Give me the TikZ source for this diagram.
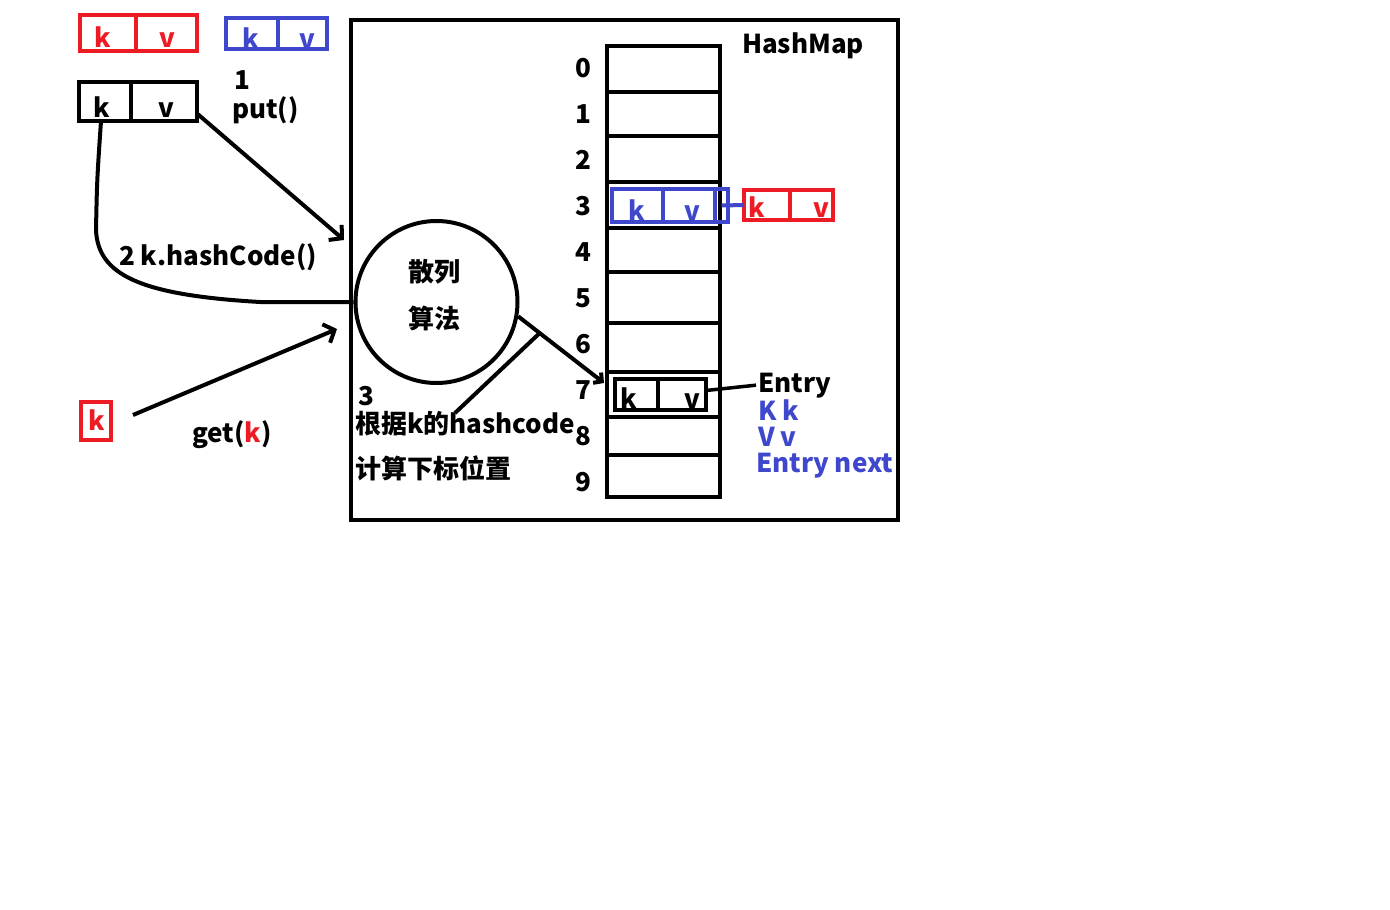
\documentclass[tikz,border=0pt]{standalone}
\usepackage{fontspec}
\setmainfont{Noto Sans CJK SC}
\usetikzlibrary{arrows.meta,calc}
\definecolor{myred}{HTML}{ED1C24}
\definecolor{myblue}{HTML}{3F48CC}
\begin{document}
\begin{tikzpicture}[x=1pt,y=-1pt,
  font=\fontsize{26}{30}\selectfont\bfseries,
  line width=4pt,
  cell/.style={draw, inner sep=0pt, outer sep=0pt, anchor=north west},
  txt/.style={inner sep=0pt, anchor=base},
  ltxt/.style={inner sep=0pt, anchor=base west},
  barb/.style={-{Straight Barb[length=9pt,width=20pt]}},
  smallbarb/.style={-{Straight Barb[length=6pt,width=13pt]}}]
\useasboundingbox (0,0) rectangle (1390,910);
\fill[white] (0,0) rectangle (1390,910);

% top red k/v
\node[cell, myred, minimum width=56pt, minimum height=36pt] (tk) at (80,15) {};
\node[cell, myred, minimum width=61pt, minimum height=36pt] (tv) at (136,15) {};
\node[txt, myred] (tkt) at (103,47) {k};
\node[txt, myred] (tvt) at (167,47) {v};
% top blue k/v
\node[cell, myblue, minimum width=52pt, minimum height=31pt] (uk) at (226,18) {};
\node[cell, myblue, minimum width=49pt, minimum height=31pt] (uv) at (278,18) {};
\node[txt, myblue] (ukt) at (251,48) {k};
\node[txt, myblue] (uvt) at (307,48) {v};
% black k/v
\node[cell, minimum width=52pt, minimum height=39pt] (bk) at (79,82) {};
\node[cell, minimum width=66pt, minimum height=39pt] (bv) at (131,82) {};
\node[txt] (bkt) at (102,117) {k};
\node[txt] (bvt) at (166,117) {v};
\node[txt] (one) at (242,89) {1};
\node[ltxt] (put) at (230,118) {put()};

% frame
\node[cell, minimum width=547pt, minimum height=500pt] (frame) at (351,20) {};
\node[ltxt] (hm) at (740,53) {HashMap};

% array
\foreach \i/\t/\h in {0/46/46,1/92/44,2/136/46,3/182/46,4/228/44,5/272/51,6/323/49,7/372/45,8/417/38,9/455/42}
  \node[cell, minimum width=113pt, minimum height=\h pt] (r\i) at (607,\t) {};
\foreach \i in {0,...,9}
  \node[txt] (n\i) at (583,{77+46*\i}) {\i};

% row 3 blue entry and red entry
\node[cell, myblue, minimum width=51pt, minimum height=33pt] (ak) at (612,189) {};
\node[cell, myblue, minimum width=52pt, minimum height=33pt] (av) at (663,189) {};
\node[cell, myblue, minimum width=13pt, minimum height=33pt] (ap) at (715,189) {};
\node[txt, myblue] (akt) at (637,220) {k};
\node[txt, myblue] (avt) at (692,220) {v};
\node[cell, myred, minimum width=46pt, minimum height=30pt] (ck) at (744,190) {};
\node[cell, myred, minimum width=43pt, minimum height=30pt] (cv) at (790,190) {};
\node[txt, myred] (ckt) at (757,217) {k};
\node[txt, myred] (cvt) at (821,217) {v};
\draw[myblue] (ap.center) -- (ck.west);

% row 7 entry
\node[cell, minimum width=43pt, minimum height=31pt] (ek) at (615,379) {};
\node[cell, minimum width=48pt, minimum height=31pt] (ev) at (658,379) {};
\node[txt] (ekt) at (629,408) {k};
\node[txt] (evt) at (692,408) {v};
\node[ltxt] (entry) at (756,392) {Entry};
\node[ltxt, myblue] (kk) at (756,420) {K k};
\node[ltxt, myblue] (vv) at (756,446) {V v};
\node[ltxt, myblue] (en) at (754,472) {Entry next};
\draw[line width=3.5pt] ([yshift=4pt]ev.east) -- (entry.west);

% circle
\node[circle, draw, minimum size=162pt, inner sep=0pt] (circ) at (436.5,302) {};
\node[inner sep=0pt] (c1) at (434,272) {散列};
\node[inner sep=0pt] (c2) at (434,318) {算法};

% annotations
\node[txt] (three) at (366,405) {3};
\node[ltxt] (gen1) at (353,433) {根据k的hashcode};
\node[ltxt] (gen2) at (353,478) {计算下标位置};
\node[ltxt] (hc) at (117,265) {2 k.hashCode()};
\node[ltxt] (get) at (190,442) {get(\textcolor{myred}{k})};

% single red k
\node[cell, myred, line width=3.5pt, minimum width=30pt, minimum height=38pt] (sk) at (81,402) {};
\node[txt, myred] (skt) at (97,430) {k};

% connectors
\coordinate (puttip) at (344,240);
\draw[barb] ([yshift=-12pt]bv.east) -- (puttip);
\draw ([xshift=-4pt]bk.south) .. controls (97,180) .. (96,230)
      .. controls (98,275) and (140,295) .. (260,302) -- (circ.west);
\coordinate (getstart) at (133,415);
\coordinate (gettip) at (337,329);
\draw[barb] (getstart) -- (gettip);
\coordinate (r7tip) at (604,383);
\draw[smallbarb] (circ.-10) -- (r7tip);
\coordinate (annend) at (455,413);
\draw ($(circ.-10)!0.25!(r7tip)$) -- (annend);
\end{tikzpicture}
\end{document}
